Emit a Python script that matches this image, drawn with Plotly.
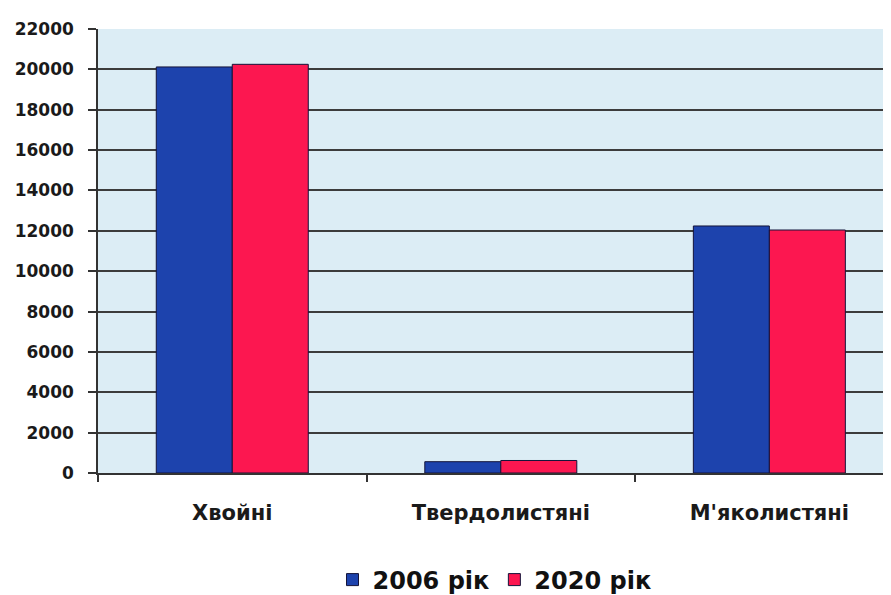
import plotly.graph_objects as go

categories = ["Хвойні", "Твердолистяні", "М'яколистяні"]
series_names = ["2006 рік", "2020 рік"]
values_2006 = [20120, 560, 12240]
values_2020 = [20250, 620, 12040]
y_tick_values = [0, 2000, 4000, 6000, 8000, 10000, 12000, 14000, 16000, 18000, 20000, 22000]

colors = ["#1d43ad", "#fc1750"]
FONT = "DejaVu Sans"

fig = go.Figure()
for name, vals, col in zip(series_names, [values_2006, values_2020], colors):
    fig.add_trace(go.Bar(
        x=categories, y=vals, name=name,
        marker=dict(color=col, line=dict(color="#14143a", width=1)),
    ))

# page body has an 8px margin: figure is sized so it fits the 891x595 window
fig.update_layout(
    width=883, height=587,
    margin=dict(l=90, r=0, t=21, b=122, autoexpand=False),
    paper_bgcolor="#ffffff",
    plot_bgcolor="#dcedf5",
    barmode="group",
    bargap=0.434,
    bargroupgap=0,
    showlegend=True,
    legend=dict(
        orientation="h", x=0.500, xanchor="center", y=-0.241, yanchor="middle",
        font=dict(family=FONT, size=24, color="#111111", weight="bold"),
        itemwidth=30, tracegroupgap=0, bgcolor="rgba(0,0,0,0)",
    ),
    xaxis=dict(
        type="category",
        range=[-0.5, 2.453],
        automargin=False,
        showline=True, linecolor="#333333", linewidth=1.5,
        ticks="outside", tickson="boundaries", ticklen=7, tickcolor="#333333", tickwidth=1.5,
        showgrid=False,
        tickfont=dict(family=FONT, size=21, color="#1a1a1a", weight="bold"),
        ticklabelstandoff=20,
    ),
    yaxis=dict(
        range=[0, 22000],
        automargin=False,
        tickvals=y_tick_values,
        tickformat="d",
        showline=True, linecolor="#333333", linewidth=1.5,
        ticks="outside", ticklen=8, tickcolor="#333333", tickwidth=1.5,
        showgrid=True, gridcolor="#3c3c3c", gridwidth=1.5,
        zeroline=False,
        tickfont=dict(family=FONT, size=17, color="#1a1a1a", weight="bold"),
        ticklabelstandoff=11,
    ),
)

fig.write_html("out.html")
